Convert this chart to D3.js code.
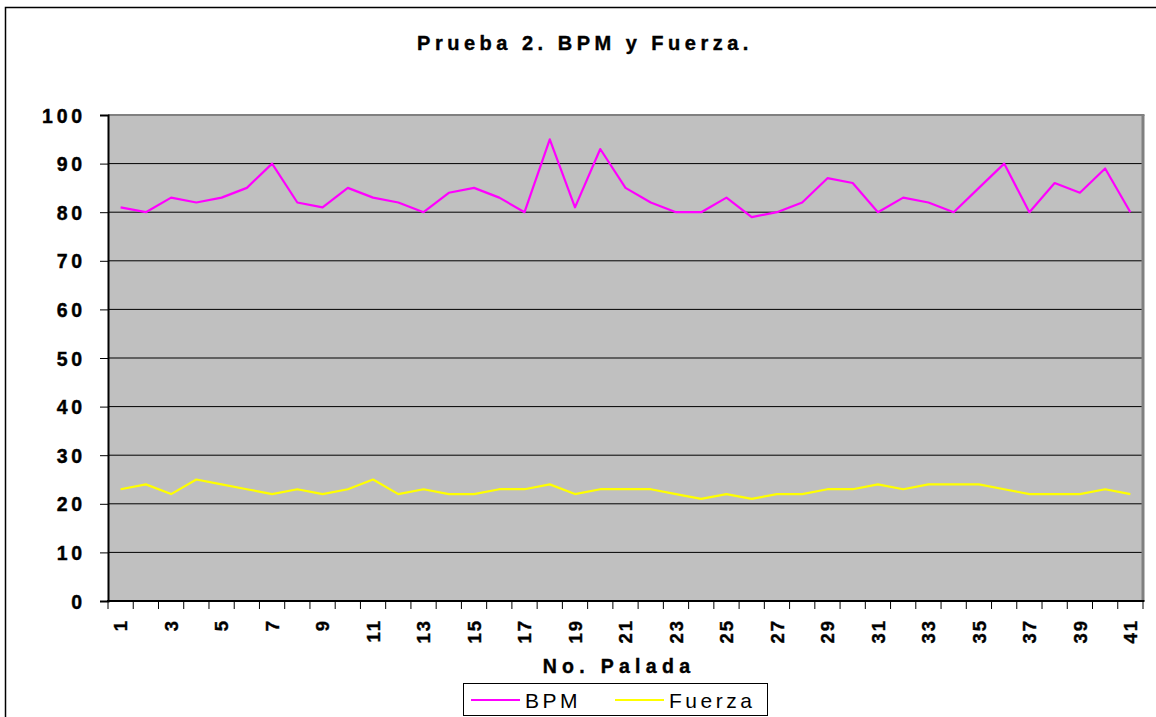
<!DOCTYPE html>
<html>
<head>
<meta charset="utf-8">
<script src="https://cdn.jsdelivr.net/npm/d3@7"></script>
<style>
  body { margin: 0; background: #fff; }
  svg { display: block; font-family: "Liberation Sans", Arial, sans-serif; }
  .heavy { stroke: #000; stroke-width: 0.4px; fill: #000; }
</style>
</head>
<body>
<div id="chart"></div>
<script>
// data
const paladas = d3.range(1, 42);
const bpm = [81, 80, 83, 82, 83, 85, 90, 82, 81, 85, 83, 82, 80, 84, 85, 83, 80, 95, 81, 93,
             85, 82, 80, 80, 83, 79, 80, 82, 87, 86, 80, 83, 82, 80, 85, 90, 80, 86, 84, 89, 80];
const fuerza = [23, 24, 22, 25, 24, 23, 22, 23, 22, 23, 25, 22, 23, 22, 22, 23, 23, 24, 22, 23,
                23, 23, 22, 21, 22, 21, 22, 22, 23, 23, 24, 23, 24, 24, 24, 23, 22, 22, 22, 23, 22];
const yTicks = d3.range(0, 101, 10);
const series = [
  { name: 'BPM', values: bpm, color: '#ff00ff' },
  { name: 'Fuerza', values: fuerza, color: '#ffff00' }
];

const width = 1156, height = 717;
const plot = { left: 108, right: 1143, top: 115, bottom: 601 };

const svg = d3.select('#chart').append('svg')
  .attr('width', width).attr('height', height);

// outer chart border (runs off the picture on the right and bottom)
svg.append('rect')
  .attr('x', 5.5).attr('y', 7.5).attr('width', 1160).attr('height', 720)
  .style('fill', 'none').style('stroke', '#000').style('stroke-width', 1.5);

svg.append('text').attr('class', 'heavy')
  .attr('x', 585).attr('y', 50)
  .attr('text-anchor', 'middle')
  .style('font-size', '20px').style('font-weight', 'bold').style('letter-spacing', '4.5px')
  .text('Prueba 2. BPM y Fuerza.');

const x = d3.scaleBand().domain(paladas).range([plot.left, plot.right]).padding(0);
const y = d3.scaleLinear().domain([0, 100]).range([plot.bottom, plot.top]);
const cx = d => x(d) + x.bandwidth() / 2;

svg.append('rect')
  .attr('x', plot.left).attr('y', plot.top)
  .attr('width', plot.right - plot.left).attr('height', plot.bottom - plot.top)
  .style('fill', '#c0c0c0');

// gridlines
svg.append('g').selectAll('line').data(yTicks.filter(d => d > 0 && d < 100)).enter()
  .append('line')
    .attr('x1', plot.left).attr('x2', plot.right)
    .attr('y1', d => y(d)).attr('y2', d => y(d))
    .style('stroke', '#000').style('stroke-width', 1);

// top and right borders of the plot area
svg.append('line')
  .attr('x1', plot.left).attr('x2', plot.right + 1.5).attr('y1', plot.top).attr('y2', plot.top)
  .style('stroke', '#808080').style('stroke-width', 2);
svg.append('line')
  .attr('x1', plot.right).attr('x2', plot.right).attr('y1', plot.top).attr('y2', plot.bottom)
  .style('stroke', '#808080').style('stroke-width', 3);

// y axis
const yAxis = svg.append('g')
  .attr('transform', 'translate(' + plot.left + ',0)')
  .call(d3.axisLeft(y).tickValues(yTicks).tickSize(8).tickPadding(0));
yAxis.select('.domain').style('stroke', '#000').style('stroke-width', 2);
yAxis.selectAll('.tick line').style('stroke', '#000').style('stroke-width', 1);
yAxis.selectAll('.tick text')
  .attr('class', 'heavy')
  .attr('x', -22).attr('dy', '0.36em')
  .style('font-size', '19.5px').style('font-weight', 'bold').style('letter-spacing', '3.8px')
  .style('font-family', '"Liberation Sans", Arial, sans-serif');

// x axis: ticks between categories, labels on odd categories
const xg = svg.append('g');
xg.append('line')
  .attr('x1', plot.left - 1).attr('x2', plot.right + 1.5)
  .attr('y1', plot.bottom).attr('y2', plot.bottom)
  .style('stroke', '#000').style('stroke-width', 2);
xg.selectAll('line.tk').data(paladas.map(d => x(d)).concat([plot.right])).enter()
  .append('line').attr('class', 'tk')
    .attr('x1', d => d).attr('x2', d => d)
    .attr('y1', plot.bottom).attr('y2', plot.bottom + 8)
    .style('stroke', '#000').style('stroke-width', 1);
xg.selectAll('text').data(paladas.filter(d => d % 2 == 1)).enter()
  .append('text').attr('class', 'heavy')
    .attr('transform', d => 'translate(' + cx(d) + ',' + 621 + ') rotate(-90)')
    .attr('dy', '0.36em').attr('dx', 2)
    .attr('text-anchor', 'end')
    .style('font-size', '18.5px').style('font-weight', 'bold').style('letter-spacing', '2px')
    .text(d => d);

svg.append('text').attr('class', 'heavy')
  .attr('x', 619).attr('y', 673)
  .attr('text-anchor', 'middle')
  .style('font-size', '19.5px').style('font-weight', 'bold').style('letter-spacing', '5.3px')
  .text('No. Palada');

// series
const line = d3.line().x((d, i) => cx(paladas[i])).y(d => y(d));
svg.append('g').selectAll('path').data(series).enter()
  .append('path')
    .attr('d', d => line(d.values))
    .style('fill', 'none').style('stroke', d => d.color).style('stroke-width', 2.2)
    .style('stroke-linejoin', 'round');

// legend
const legend = svg.append('g');
legend.append('rect')
  .attr('x', 463.5).attr('y', 683.5).attr('width', 304).attr('height', 32)
  .style('fill', '#fff').style('stroke', '#000').style('stroke-width', 1);
const items = [
  { s: series[0], x0: 471, x1: 520, tx: 525 },
  { s: series[1], x0: 615, x1: 664, tx: 669 }
];
items.forEach(it => {
  legend.append('line')
    .attr('x1', it.x0).attr('x2', it.x1).attr('y1', 700).attr('y2', 700)
    .style('stroke', it.s.color).style('stroke-width', 2);
  legend.append('text')
    .attr('x', it.tx).attr('y', 708)
    .style('font-size', '21px').style('letter-spacing', '3.5px')
    .text(it.s.name);
});
</script>
</body>
</html>
